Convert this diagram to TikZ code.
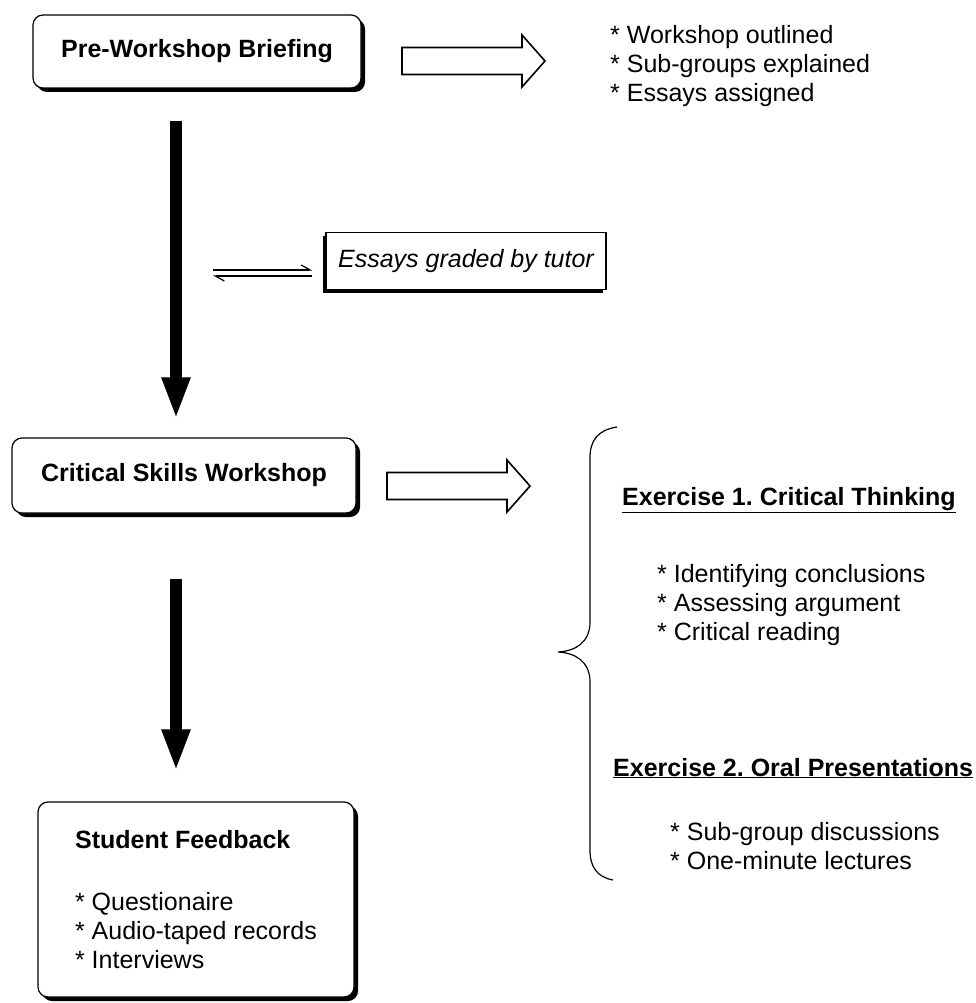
\documentclass[tikz,border=0pt]{standalone}
\usepackage{fontspec}
\setmainfont{Liberation Sans}
\usetikzlibrary{arrows.meta,shadows}
\frenchspacing

\newcommand{\bodysize}{\fontsize{25}{29}\selectfont}
\newcommand{\hollowarrow}[1]{%
  \draw[hollow] #1 ++(0,-13.5) -- ++(120,0) -- ++(0,-12.5) -- ++(23,26)
    -- ++(-23,26) -- ++(0,-12.5) -- ++(-120,0) -- cycle;}

\begin{document}
\begin{tikzpicture}[x=1pt, y=-1pt, font=\bodysize,
  stage/.style={draw, line width=1.2pt, rounded corners=10pt, fill=white,
    font=\bodysize\bfseries,
    drop shadow={shadow xshift=4pt, shadow yshift=-4pt, opacity=1, fill=black}},
  note/.style={draw, line width=1.2pt, fill=white, font=\bodysize\itshape,
    drop shadow={shadow xshift=-3pt, shadow yshift=-3pt, opacity=1, fill=black}},
  items/.style={align=left, anchor=north west, inner sep=0pt},
  heading/.style={anchor=base west, inner sep=0pt, font=\bodysize\bfseries},
  hollow/.style={line width=1.6pt, fill=white},
  bigdown/.style={line width=12pt, -{Triangle[length=42pt, width=26pt]}},
  harp/.style={line width=1.2pt, -{Straight Barb[harpoon, length=9pt, width=10pt]}},
  curly/.style={line width=1.2pt}]
\useasboundingbox (0,0) rectangle (976,1003);

% stages
\node (brief) [stage, minimum width=328pt, minimum height=73pt] at (197,51.5) {Pre-Workshop Briefing};
\node (crit) [stage, minimum width=344pt, minimum height=75pt] at (184,475.5) {Critical Skills Workshop};
\node (feedback) [stage, align=left, font=\bodysize, minimum width=316pt, minimum height=195pt] at (196,899.5)
  {\textbf{Student Feedback}\\[33pt]* Questionaire\\* Audio-taped records\\* Interviews};
\node (essays) [note, minimum width=280pt, minimum height=57pt] at (466,261) {Essays graded by tutor};

% right hand notes
\node (prelist) [items] at (610,25) {* Workshop outlined\\* Sub-groups explained\\* Essays assigned};
\node (ex1) [heading] at (622,505) {\underline{Exercise 1. Critical Thinking}};
\node (ex1list) [items] at (657,564) {* Identifying conclusions\\* Assessing argument\\* Critical reading};
\node (ex2) [heading] at (613,776) {\underline{Exercise 2. Oral Presentations}};
\node (ex2list) [items] at (670,822) {* Sub-group discussions\\* One-minute lectures};

% arrows
\coordinate (spine) at (176,0);
\draw[bigdown, shorten <=32pt, shorten >=18pt] (spine |- brief.south) -- (spine |- crit.north);
\draw[bigdown, shorten <=65pt, shorten >=30pt] (spine |- crit.south) -- (spine |- feedback.north);

\coordinate (hl) at (213,273);
\draw[harp] ([yshift=3pt]hl) -- ([xshift=-13pt,yshift=-9pt]essays.west);
\draw[harp] ([xshift=-13pt,yshift=-15pt]essays.west) -- ([yshift=-3pt]hl);

\hollowarrow{(402,61)}
\hollowarrow{(387,486)}

\draw[curly] (617,427) .. controls (598,430) and (590,440) .. (590,458) -- (590,622)
  .. controls (590,642) and (576,651) .. (558,652)
  .. controls (576,653) and (590,662) .. (590,682) -- (590,850)
  .. controls (590,867) and (597,877) .. (613,880);
\end{tikzpicture}
\end{document}
